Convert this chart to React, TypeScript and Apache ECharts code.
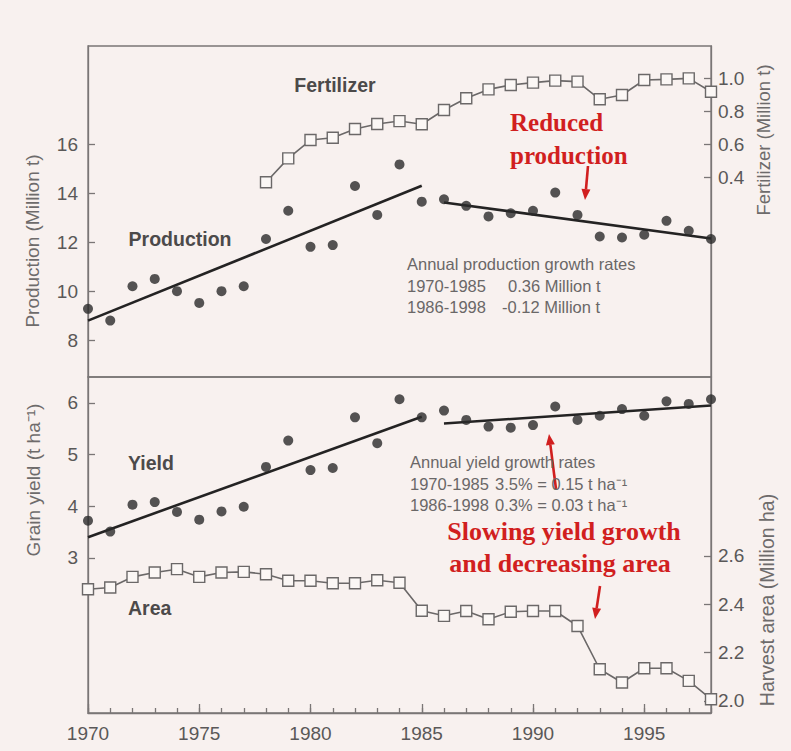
import React, { useEffect, useRef } from "react";
import * as echarts from "echarts";

// ---------- data ----------
const years = [
  1970, 1971, 1972, 1973, 1974, 1975, 1976, 1977, 1978, 1979, 1980, 1981, 1982, 1983, 1984,
  1985, 1986, 1987, 1988, 1989, 1990, 1991, 1992, 1993, 1994, 1995, 1996, 1997, 1998,
];
const yearLabels = [1970, 1975, 1980, 1985, 1990, 1995];

const productionValues = [
  9.28, 8.8, 10.2, 10.5, 10.0, 9.52, 10.0, 10.2, 12.13, 13.28, 11.81, 11.88, 14.29, 13.11, 15.17,
  13.65, 13.75, 13.48, 13.05, 13.18, 13.28, 14.02, 13.11, 12.23, 12.19, 12.3, 12.87, 12.46, 12.13,
];

const fertilizerYears = [
  1978, 1979, 1980, 1981, 1982, 1983, 1984, 1985, 1986, 1987, 1988, 1989, 1990, 1991, 1992,
  1993, 1994, 1995, 1996, 1997, 1998,
];
const fertilizerValues = [
  0.368, 0.513, 0.624, 0.638, 0.691, 0.721, 0.739, 0.72, 0.806, 0.877, 0.931, 0.958, 0.972,
  0.984, 0.978, 0.871, 0.897, 0.988, 0.992, 0.998, 0.917,
];

const yieldValues = [
  3.72, 3.51, 4.03, 4.08, 3.89, 3.74, 3.9, 3.99, 4.76, 5.27, 4.7, 4.74, 5.72, 5.22, 6.07, 5.72,
  5.85, 5.67, 5.54, 5.52, 5.57, 5.93, 5.67, 5.75, 5.88, 5.75, 6.03, 5.98, 6.07,
];

const areaValues = [
  2.462, 2.469, 2.513, 2.531, 2.545, 2.513, 2.531, 2.534, 2.524, 2.497, 2.497, 2.487, 2.487,
  2.499, 2.489, 2.373, 2.352, 2.372, 2.338, 2.369, 2.372, 2.372, 2.31, 2.131, 2.076, 2.135,
  2.135, 2.083, 2.007,
];

// regression (trend) lines, period 1 and period 2
const trendYears1 = [1970, 1985];
const trendYears2 = [1986, 1998];
const productionTrend1 = [8.8, 14.3];
const productionTrend2 = [13.62, 12.15];
const yieldTrend1 = [3.4, 5.73];
const yieldTrend2 = [5.6, 5.95];

const productionTicks = [8, 10, 12, 14, 16];
const fertilizerTicks = [0.4, 0.6, 0.8, 1.0];
const yieldTicks = [3, 4, 5, 6];
const areaTicks = [2.0, 2.2, 2.4, 2.6];

// ---------- styles ----------
const BG = "#f8f1ef";
const AX = "#7a7676";
const TXT = "#5a5858";
const DOT = "#2b2a2a";
const RED = "#d11f1f";
const SANS = "Liberation Sans, Arial, sans-serif";
const SERIF = "Liberation Serif, Times New Roman, serif";

const pairs = (xs: number[], ys: number[]) => xs.map((x, i) => [x, ys[i]]);

function arrow(x0: number, y0: number, x1: number, y1: number) {
  const dx = x1 - x0;
  const dy = y1 - y0;
  const L = Math.hypot(dx, dy);
  const ux = dx / L;
  const uy = dy / L;
  const hl = 11;
  const hw = 4.5;
  const bx = x1 - ux * hl;
  const by = y1 - uy * hl;
  return [
    {
      type: "line",
      shape: { x1: x0, y1: y0, x2: bx, y2: by },
      style: { stroke: RED, lineWidth: 2.6 },
      z: 50,
    },
    {
      type: "polygon",
      shape: {
        points: [
          [x1, y1],
          [bx - uy * hw, by + ux * hw],
          [bx + uy * hw, by - ux * hw],
        ],
      },
      style: { fill: RED },
      z: 50,
    },
  ];
}

function txt(
  text: string,
  x: number,
  y: number,
  opts: { size?: number; weight?: string; color?: string; family?: string; align?: string; rot?: number } = {}
) {
  return {
    type: "text",
    x,
    y,
    rotation: opts.rot || 0,
    z: 60,
    style: {
      text,
      fontSize: opts.size || 16,
      fontWeight: opts.weight || "normal",
      fontFamily: opts.family || SANS,
      fill: opts.color || TXT,
      align: opts.align || "left",
      verticalAlign: "middle",
    },
  };
}

const tickLabel = { fontSize: 19, color: TXT, fontFamily: SANS };
const axLine = { show: true, lineStyle: { color: AX, width: 1.3 } };
const tickStyle = { color: AX, width: 1.3 };

const dotSeries = (name: string, data: number[][], xi: number, yi: number) => ({
  name,
  type: "scatter",
  xAxisIndex: xi,
  yAxisIndex: yi,
  data,
  symbol: "circle",
  symbolSize: 10,
  itemStyle: { color: DOT },
  z: 5,
});

const trendSeries = (name: string, data: number[][], xi: number, yi: number) => ({
  name,
  type: "line",
  xAxisIndex: xi,
  yAxisIndex: yi,
  data,
  showSymbol: false,
  symbol: "none",
  lineStyle: { color: "#242323", width: 2.6 },
  z: 4,
});

const squareSeries = (name: string, data: number[][], xi: number, yi: number) => ({
  name,
  type: "line",
  xAxisIndex: xi,
  yAxisIndex: yi,
  data,
  symbol: "rect",
  symbolSize: 11,
  showSymbol: true,
  itemStyle: { color: "#fbf7f5", borderColor: "#6b6868", borderWidth: 1.4 },
  lineStyle: { color: "#6b6868", width: 1.6 },
  z: 6,
});

export default function App() {
  const ref = useRef<HTMLDivElement>(null);

  useEffect(() => {
    const chart = echarts.init(ref.current!, null, { renderer: "svg" });

    const option: any = {
      animation: false,
      backgroundColor: BG,
      grid: [
        { left: 88, top: 46, width: 623, height: 331, show: true, borderColor: AX, borderWidth: 1.3 },
        { left: 88, top: 377, width: 623, height: 336, show: true, borderColor: AX, borderWidth: 1.3 },
      ],
      xAxis: [
        {
          gridIndex: 0,
          type: "value",
          min: 1970,
          max: 1998,
          axisLine: { show: false },
          axisTick: { show: false },
          axisLabel: { show: false },
          splitLine: { show: false },
        },
        {
          gridIndex: 1,
          type: "value",
          min: 1970,
          max: 1998,
          axisLine: axLine,
          axisTick: { show: true, inside: true, length: 5, customValues: years, lineStyle: tickStyle },
          axisLabel: { ...tickLabel, customValues: yearLabels, margin: 11, formatter: (v: number) => String(v) },
          splitLine: { show: false },
        },
        {
          gridIndex: 1,
          type: "value",
          min: 1970,
          max: 1998,
          position: "bottom",
          axisLine: { show: false },
          axisTick: { show: true, inside: true, length: 9, customValues: yearLabels, lineStyle: tickStyle },
          axisLabel: { show: false },
          splitLine: { show: false },
        },
      ],
      yAxis: [
        {
          gridIndex: 0,
          type: "value",
          position: "left",
          min: 6.5,
          max: 20,
          axisLine: axLine,
          axisTick: { show: true, inside: true, length: 7, customValues: productionTicks, lineStyle: tickStyle },
          axisLabel: { ...tickLabel, customValues: productionTicks, margin: 10 },
          splitLine: { show: false },
        },
        {
          gridIndex: 0,
          type: "value",
          position: "right",
          min: -0.812,
          max: 1.194,
          axisLine: axLine,
          axisTick: { show: true, inside: true, length: 7, customValues: fertilizerTicks, lineStyle: tickStyle },
          axisLabel: {
            ...tickLabel,
            customValues: fertilizerTicks,
            margin: 7,
            formatter: (v: number) => v.toFixed(1),
          },
          splitLine: { show: false },
        },
        {
          gridIndex: 1,
          type: "value",
          position: "left",
          min: 0,
          max: 6.5,
          axisLine: axLine,
          axisTick: { show: true, inside: true, length: 7, customValues: yieldTicks, lineStyle: tickStyle },
          axisLabel: { ...tickLabel, customValues: yieldTicks, margin: 10 },
          splitLine: { show: false },
        },
        {
          gridIndex: 1,
          type: "value",
          position: "right",
          min: 1.95,
          max: 3.34,
          axisLine: axLine,
          axisTick: { show: true, inside: true, length: 7, customValues: areaTicks, lineStyle: tickStyle },
          axisLabel: {
            ...tickLabel,
            customValues: areaTicks,
            margin: 7,
            formatter: (v: number) => v.toFixed(1),
          },
          splitLine: { show: false },
        },
      ],
      series: [
        squareSeries("Fertilizer", pairs(fertilizerYears, fertilizerValues), 0, 1),
        trendSeries("Production trend 1970-1985", pairs(trendYears1, productionTrend1), 0, 0),
        trendSeries("Production trend 1986-1998", pairs(trendYears2, productionTrend2), 0, 0),
        dotSeries("Production", pairs(years, productionValues), 0, 0),
        squareSeries("Area", pairs(years, areaValues), 1, 3),
        trendSeries("Yield trend 1970-1985", pairs(trendYears1, yieldTrend1), 1, 2),
        trendSeries("Yield trend 1986-1998", pairs(trendYears2, yieldTrend2), 1, 2),
        dotSeries("Yield", pairs(years, yieldValues), 1, 2),
      ],
      graphic: [
        // axis titles
        txt("Production (Million t)", 32, 241, { size: 19, color: "#6e6b6b", align: "center", rot: Math.PI / 2 }),
        txt("Grain yield (t ha\u207B\u00B9)", 33, 480, { size: 19, color: "#6e6b6b", align: "center", rot: Math.PI / 2 }),
        txt("Fertilizer (Million t)", 763, 140, { size: 18.5, color: "#6e6b6b", align: "center", rot: Math.PI / 2 }),
        txt("Harvest area (Million ha)", 767, 600, { size: 19.5, color: "#6e6b6b", align: "center", rot: Math.PI / 2 }),
        // series labels
        txt("Fertilizer", 335, 85, { size: 19.5, weight: "bold", color: "#4c4a4a", align: "center" }),
        txt("Production", 180, 239, { size: 19.5, weight: "bold", color: "#4c4a4a", align: "center" }),
        txt("Yield", 128, 463, { size: 19.5, weight: "bold", color: "#4c4a4a" }),
        txt("Area", 128, 608, { size: 19.5, weight: "bold", color: "#4c4a4a" }),
        // production growth rates
        txt("Annual production growth rates", 407, 264, { size: 16.5, color: "#6a6767" }),
        txt("1970-1985", 407, 286, { size: 16.5, color: "#6a6767" }),
        txt("0.36 Million t", 508, 286, { size: 16.5, color: "#6a6767" }),
        txt("1986-1998", 407, 307, { size: 16.5, color: "#6a6767" }),
        txt("-0.12 Million t", 502, 307, { size: 16.5, color: "#6a6767" }),
        // yield growth rates
        txt("Annual yield growth rates", 410, 462, { size: 16.5, color: "#6a6767" }),
        txt("1970-1985", 410, 484, { size: 16.5, color: "#6a6767" }),
        txt("3.5% = 0.15 t ha\u207B\u00B9", 495, 484, { size: 16.5, color: "#6a6767" }),
        txt("1986-1998", 410, 505, { size: 16.5, color: "#6a6767" }),
        txt("0.3% = 0.03 t ha\u207B\u00B9", 495, 505, { size: 16.5, color: "#6a6767" }),
        // red annotations
        txt("Reduced", 510, 122, { size: 25, weight: "bold", color: RED, family: SERIF }),
        txt("production", 510, 155, { size: 25, weight: "bold", color: RED, family: SERIF }),
        txt("Slowing yield growth", 564, 531, { size: 26, weight: "bold", color: RED, family: SERIF, align: "center" }),
        txt("and decreasing area", 560, 563, { size: 26, weight: "bold", color: RED, family: SERIF, align: "center" }),
        ...arrow(588, 166, 585, 200),
        ...arrow(556, 489, 549, 434),
        ...arrow(600, 586, 595, 619),
      ],
    };

    chart.setOption(option);
    return () => chart.dispose();
  }, []);

  return (
    <div
      ref={ref}
      style={{ position: "fixed", left: 0, top: 0, width: 791, height: 751, background: BG }}
    />
  );
}
